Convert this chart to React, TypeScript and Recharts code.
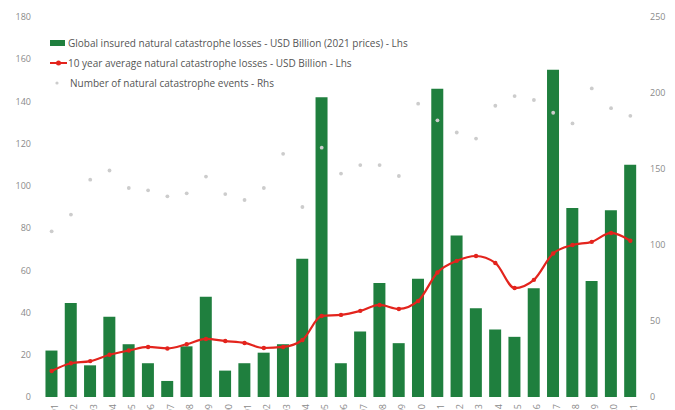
import { ComposedChart, Bar, Line, XAxis, YAxis } from "recharts";

// 1991 - 2021
const years = [
  "1991", "1992", "1993", "1994", "1995", "1996", "1997", "1998", "1999", "2000",
  "2001", "2002", "2003", "2004", "2005", "2006", "2007", "2008", "2009", "2010",
  "2011", "2012", "2013", "2014", "2015", "2016", "2017", "2018", "2019", "2020", "2021",
];

// insured losses, USD bn (2021 prices) - Lhs
const losses = [
  22, 44.5, 15, 38, 25, 16, 7.6, 24, 47.5, 12.5,
  16, 21, 25, 65.5, 142, 16, 31, 54, 25.5, 56,
  146, 76.5, 42, 32, 28.5, 51.5, 155, 89.5, 55, 88.5, 110,
];

// 10 year average - Lhs
const avg10 = [
  12.3, 16, 17, 20, 22, 23.7, 23, 25, 27.5, 26.5,
  25.6, 23.2, 23.7, 27, 38.4, 38.9, 40.8, 43.6, 41.7, 45.5,
  59, 64.5, 66.8, 63.5, 51.6, 55.5, 68, 72, 73.5, 77.7, 74,
];

// number of events - Rhs
const events = [
  109, 120, 143, 149, 137.5, 136, 132, 134, 145, 133.5,
  129.6, 137.5, 160, 125, 164, 147, 152.6, 152.6, 145.4, 193,
  182, 174, 170, 191.6, 198, 195.4, 187, 180, 203, 190, 185,
];

const leftTicks = [0, 20, 40, 60, 80, 100, 120, 140, 160, 180];
const rightTicks = [0, 50, 100, 150, 200, 250];

const data = years.map((y, i) => ({
  year: y,
  losses: losses[i],
  avg: avg10[i],
  events: events[i],
}));

const GREEN = "#1f7f3e";
const RED = "#e3241d";
const GREY = "#cccccc";
const FONT = "'Open Sans', sans-serif";

const tickStyle = { fill: "#8a8a8a", fontSize: 9, fontFamily: FONT };

const LegendBox = () => (
  <div
    style={{
      position: "absolute",
      left: 50,
      top: 33,
      fontFamily: FONT,
      fontSize: 10,
      color: "#555",
      lineHeight: "20px",
    }}
  >
    <div style={{ display: "flex", alignItems: "center" }}>
      <span style={{ width: 15, height: 6, background: GREEN, marginRight: 3 }} />
      Global insured natural catastrophe losses - USD Billion (2021 prices) - Lhs
    </div>
    <div style={{ display: "flex", alignItems: "center" }}>
      <svg width={17} height={8} style={{ marginRight: 1 }}>
        <line x1={0} y1={4} x2={17} y2={4} stroke={RED} strokeWidth={2} />
        <circle cx={8.5} cy={4} r={2.5} fill={RED} />
      </svg>
      10 year average natural catastrophe losses - USD Billion - Lhs
    </div>
    <div style={{ display: "flex", alignItems: "center" }}>
      <svg width={20} height={8}>
        <circle cx={7} cy={4} r={1.6} fill={GREY} />
      </svg>
      Number of natural catastrophe events - Rhs
    </div>
  </div>
);

export default function App() {
  return (
    <div style={{ position: "absolute", left: 0, top: 0, width: 675, height: 410, overflow: "hidden", background: "#fff" }}>
      <ComposedChart
        width={675}
        height={450}
        data={data}
        margin={{ top: 17, right: 0, left: 0, bottom: 0 }}
        barCategoryGap="18%"
      >
        <XAxis
          dataKey="year"
          interval={0}
          angle={-90}
          textAnchor="end"
          tickLine={false}
          axisLine={false}
          tickSize={0}
          tickMargin={7}
          height={53}
          tick={tickStyle}
        />
        <YAxis
          yAxisId="left"
          domain={[0, 180]}
          ticks={leftTicks}
          width={42}
          tickLine={false}
          axisLine={false}
          tickSize={0}
          tickMargin={11}
          tick={tickStyle}
        />
        <YAxis
          yAxisId="right"
          orientation="right"
          domain={[0, 250]}
          ticks={rightTicks}
          width={35}
          tickLine={false}
          axisLine={false}
          tickSize={0}
          tickMargin={10}
          tick={{ ...tickStyle, textAnchor: "start" }}
        />
        <Bar yAxisId="left" dataKey="losses" fill={GREEN} isAnimationActive={false} />
        <Line
          yAxisId="left"
          type="monotone"
          dataKey="avg"
          stroke={RED}
          strokeWidth={2.2}
          dot={{ r: 2.2, fill: RED, stroke: RED, strokeWidth: 0 }}
          isAnimationActive={false}
        />
        <Line
          yAxisId="right"
          dataKey="events"
          stroke="none"
          dot={{ r: 1.9, fill: GREY, stroke: "none" }}
          activeDot={false}
          isAnimationActive={false}
        />
      </ComposedChart>
      <LegendBox />
    </div>
  );
}
